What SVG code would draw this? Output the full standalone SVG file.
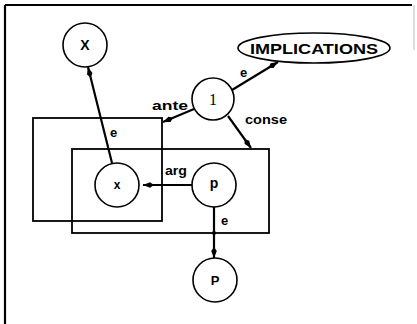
<svg xmlns="http://www.w3.org/2000/svg" width="417" height="324" viewBox="0 0 417 324">
<style>
.node{fill:#fff;stroke:#000;stroke-width:1.6}
.box{fill:none;stroke:#000;stroke-width:1.8}
.edge{fill:none;stroke:#000;stroke-width:2.2;marker-end:url(#ah)}
.lbl{font-family:"Liberation Sans",Arial,sans-serif;font-weight:bold;font-size:13px;fill:#000}
.nt{font-family:"Liberation Sans",Arial,sans-serif;font-weight:bold;fill:#000;text-anchor:middle}
</style>
<defs>
<marker id="ah" markerWidth="12" markerHeight="8" refX="11" refY="4" orient="auto" markerUnits="userSpaceOnUse">
<path d="M0,4 L4,1.2 L11,4 L4,6.8 Z" fill="#000"/>
</marker>
</defs>
<rect width="417" height="324" fill="#fff"/>
<g id="frame">
<path d="M5,5 H412" stroke="#000" stroke-width="2" fill="none"/>
<path d="M5,5 V324" stroke="#000" stroke-width="2.2" fill="none"/>
<path d="M414,5 V50" stroke="#bbb" stroke-width="1" fill="none"/>
</g>
<g id="box-ante"><rect class="box" x="33" y="118" width="129" height="103"/></g>
<g id="box-conse"><rect class="box" x="72" y="149" width="197" height="84"/></g>
<g id="connectors">
<line class="edge" x1="232" y1="90" x2="278" y2="62"/>
<line class="edge" x1="194" y1="109" x2="163" y2="122"/>
<line class="edge" x1="228" y1="116" x2="251" y2="148"/>
<line class="edge" x1="192" y1="185" x2="143" y2="185"/>
<line class="edge" x1="214" y1="207" x2="214" y2="258"/>
<circle cx="214" cy="233" r="2" fill="#000"/>
<line class="edge" x1="112" y1="163" x2="88" y2="67"/>
<text class="lbl" x="240" y="77">e</text>
<text class="lbl" x="152" y="110" textLength="36" lengthAdjust="spacingAndGlyphs">ante</text>
<text class="lbl" x="245" y="124" textLength="42" lengthAdjust="spacingAndGlyphs">conse</text>
<text class="lbl" x="165" y="175" textLength="22" lengthAdjust="spacingAndGlyphs">arg</text>
<text class="lbl" x="110" y="137">e</text>
<text class="lbl" x="221" y="225">e</text>
</g>
<g id="node-X"><circle class="node" cx="85" cy="45" r="22"/><text class="nt" x="85" y="50" font-size="14">X</text></g>
<g id="node-IMPLICATIONS"><ellipse class="node" cx="314" cy="48" rx="76" ry="15"/><text class="nt" x="314" y="54" font-size="15" textLength="128" lengthAdjust="spacingAndGlyphs">IMPLICATIONS</text></g>
<g id="node-1"><circle class="node" cx="213" cy="99" r="21"/><text x="213" y="105" font-family="Liberation Serif,serif" font-size="16" text-anchor="middle">1</text></g>
<g id="node-x"><circle class="node" cx="117" cy="185" r="22"/><text class="nt" x="117" y="189" font-size="12">x</text></g>
<g id="node-p"><circle class="node" cx="214" cy="185" r="22"/><text class="nt" x="214" y="188" font-size="14">p</text></g>
<g id="node-P"><circle class="node" cx="215" cy="280" r="22"/><text class="nt" x="215" y="285" font-size="13">P</text></g>
</svg>
